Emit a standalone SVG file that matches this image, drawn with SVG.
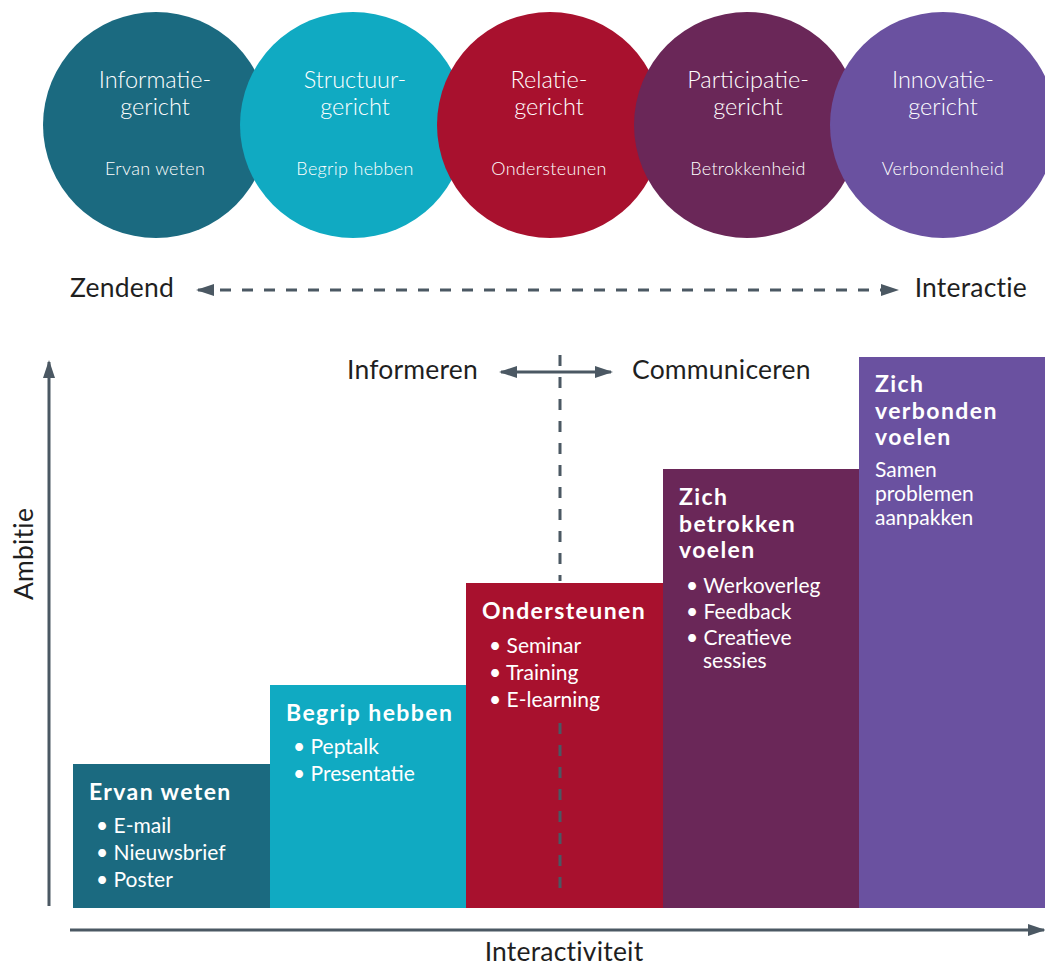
<svg xmlns="http://www.w3.org/2000/svg" width="1045" height="966" viewBox="0 0 1045 966">
<style>
.t{font-family:Lato,"Open Sans","Liberation Sans",sans-serif;fill:#fff}
.ct{font-size:23.5px;font-weight:300;text-anchor:middle}
.cs{font-size:18px;font-weight:300;letter-spacing:0.3px;text-anchor:middle}
.lbl{font-family:Lato,"Open Sans","Liberation Sans",sans-serif;fill:#1f1f1f;font-size:26.5px;font-weight:400;letter-spacing:0.2px}
.bh{font-size:23px;font-weight:bold;letter-spacing:1.4px}
.bi{font-size:21px}
.ax{stroke:#4b5863;stroke-width:3;fill:none}
.dash{stroke:#4b5863;stroke-width:3;fill:none;stroke-dasharray:11 11}
</style>
<defs>
<marker id="ah" viewBox="0 0 18 12" refX="16" refY="6" markerWidth="18" markerHeight="12" markerUnits="userSpaceOnUse" orient="auto-start-reverse">
<path d="M0,0 L18,6 L0,12 Z" fill="#4b5863"/>
</marker>
</defs>
<rect width="1045" height="966" fill="#fff"/>
<g id="circle-informatie">
<circle cx="156" cy="125" r="113" fill="#1b6a80"/>
<text class="t ct" x="155" y="88">Informatie-</text>
<text class="t ct" x="155" y="115">gericht</text>
<text class="t cs" x="155" y="175">Ervan weten</text>
</g>
<g id="circle-structuur">
<circle cx="353" cy="125" r="113" fill="#10aac2"/>
<text class="t ct" x="355" y="88">Structuur-</text>
<text class="t ct" x="355" y="115">gericht</text>
<text class="t cs" x="355" y="175">Begrip hebben</text>
</g>
<g id="circle-relatie">
<circle cx="550" cy="125" r="113" fill="#a8112e"/>
<text class="t ct" x="549" y="88">Relatie-</text>
<text class="t ct" x="549" y="115">gericht</text>
<text class="t cs" x="549" y="175">Ondersteunen</text>
</g>
<g id="circle-participatie">
<circle cx="747" cy="125" r="113" fill="#6a2758"/>
<text class="t ct" x="748" y="88">Participatie-</text>
<text class="t ct" x="748" y="115">gericht</text>
<text class="t cs" x="748" y="175">Betrokkenheid</text>
</g>
<g id="circle-innovatie">
<circle cx="943" cy="125" r="113" fill="#6a51a0"/>
<text class="t ct" x="943" y="88">Innovatie-</text>
<text class="t ct" x="943" y="115">gericht</text>
<text class="t cs" x="943" y="175">Verbondenheid</text>
</g>
<g id="label-zendend"><text class="lbl" x="70" y="297">Zendend</text></g>
<g id="label-interactie"><text class="lbl" x="1027" y="297" text-anchor="end">Interactie</text></g>
<g id="label-informeren"><text class="lbl" x="478" y="379" text-anchor="end">Informeren</text></g>
<g id="label-communiceren"><text class="lbl" x="632" y="379">Communiceren</text></g>
<g id="label-ambitie"><text class="lbl" transform="translate(33,554) rotate(-90)" text-anchor="middle">Ambitie</text></g>
<g id="label-interactiviteit"><text class="lbl" x="564" y="961" text-anchor="middle">Interactiviteit</text></g>
<g id="bar-ervan">
<rect x="73" y="764" width="197" height="144" fill="#1b6a80"/>
<text class="t bh" x="89" y="800">Ervan weten</text>
<text class="t bi" x="96" y="833">• E-mail</text>
<text class="t bi" x="96" y="860">• Nieuwsbrief</text>
<text class="t bi" x="96" y="887">• Poster</text>
</g>
<g id="bar-begrip">
<rect x="270" y="685" width="196" height="223" fill="#10aac2"/>
<text class="t bh" x="286" y="721">Begrip hebben</text>
<text class="t bi" x="293" y="754">• Peptalk</text>
<text class="t bi" x="293" y="781">• Presentatie</text>
</g>
<g id="bar-ondersteunen">
<rect x="466" y="583" width="197" height="325" fill="#a8112e"/>
<text class="t bh" x="482" y="619">Ondersteunen</text>
<text class="t bi" x="489" y="653">• Seminar</text>
<text class="t bi" x="489" y="680">• Training</text>
<text class="t bi" x="489" y="707">• E-learning</text>
</g>
<g id="bar-betrokken">
<rect x="663" y="469" width="196" height="439" fill="#6a2758"/>
<text class="t bh" x="679" y="505">Zich</text>
<text class="t bh" x="679" y="532">betrokken</text>
<text class="t bh" x="679" y="558">voelen</text>
<text class="t bi" x="686" y="593">• Werkoverleg</text>
<text class="t bi" x="686" y="619">• Feedback</text>
<text class="t bi" x="686" y="645">• Creatieve</text>
<text class="t bi" x="703" y="668">sessies</text>
</g>
<g id="bar-verbonden">
<rect x="859" y="357" width="186" height="551" fill="#6a51a0"/>
<text class="t bh" x="875" y="392">Zich</text>
<text class="t bh" x="875" y="419">verbonden</text>
<text class="t bh" x="875" y="445">voelen</text>
<text class="t bi" x="875" y="477">Samen</text>
<text class="t bi" x="875" y="501">problemen</text>
<text class="t bi" x="875" y="525">aanpakken</text>
</g>
<g id="connectors">
<line class="dash" x1="198" y1="290" x2="897" y2="290" marker-start="url(#ah)" marker-end="url(#ah)"/>
<line class="ax" x1="501" y1="372" x2="611" y2="372" marker-start="url(#ah)" marker-end="url(#ah)"/>
<line class="dash" x1="560" y1="355" x2="560" y2="581"/>
<line class="dash" x1="560" y1="723" x2="560" y2="889"/>
<line class="ax" x1="49" y1="906" x2="49" y2="362" marker-end="url(#ah)"/>
<line class="ax" x1="70" y1="930" x2="1044" y2="930" marker-end="url(#ah)"/>
</g>
</svg>
